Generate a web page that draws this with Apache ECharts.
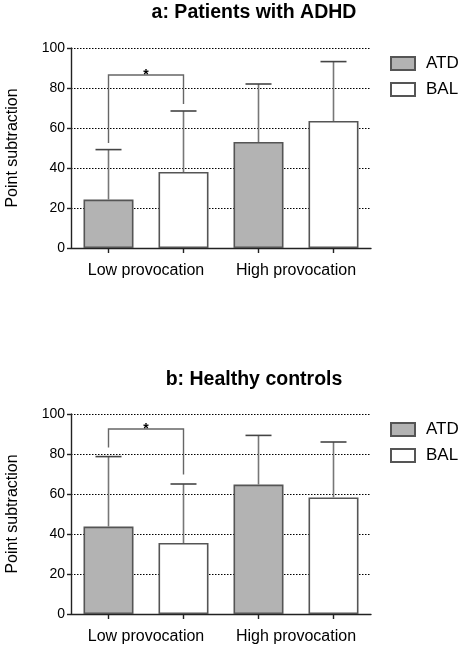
<!DOCTYPE html>
<html>
<head>
<meta charset="utf-8">
<script src="https://cdn.jsdelivr.net/npm/echarts@6/dist/echarts.min.js"></script>
<style>
  html, body { margin: 0; padding: 0; background: #fff; }
  #chart { width: 461px; height: 649px; }
</style>
</head>
<body>
<div id="chart"></div>
<script>
const groups = ['Low provocation', 'High provocation'];
const barSlots = ['', '', '', ''];
const yTicks = [0, 20, 40, 60, 80, 100];

// panel a: patients with ADHD
const adhdAtd = [24.2, 53];
const adhdAtdUpper = [49.2, 82];
const adhdBal = [38, 63.5];
const adhdBalUpper = [68.5, 93.2];
// [left slot, right slot, left end, right end, top]
const adhdBracket = [0, 1, 52.5, 72, 86.5];

// panel b: healthy controls
const ctrlAtd = [43.7, 64.7];
const ctrlAtdUpper = [78.7, 89.3];
const ctrlBal = [35.5, 58.3];
const ctrlBalUpper = [65, 86];
const ctrlBracket = [0, 1, 83.2, 69.8, 92.5];

const FONT = 'Liberation Sans, Arial, sans-serif';
const AXIS_COLOR = '#222';
const GRAY = '#b3b3b3';
const EDGE = '#555';

const chart = echarts.init(document.getElementById('chart'));

// slot order on the tick axis: ATD low, BAL low, ATD high, BAL high
function errorData(atd, atdUp, bal, balUp) {
    return [
        [0, atd[0], atdUp[0]],
        [1, bal[0], balUp[0]],
        [2, atd[1], atdUp[1]],
        [3, bal[1], balUp[1]],
    ];
}

function renderError(params, api) {
    const base = api.coord([api.value(0), api.value(1)]);
    const top = api.coord([api.value(0), api.value(2)]);
    const half = 13;
    return {
        type: 'group',
        children: [
            {
                type: 'line',
                shape: { x1: base[0], y1: base[1], x2: top[0], y2: top[1] },
                style: { stroke: '#777', lineWidth: 1.6 },
            },
            {
                type: 'line',
                shape: { x1: top[0] - half, y1: top[1], x2: top[0] + half, y2: top[1] },
                style: { stroke: '#444', lineWidth: 1.6 },
            },
        ],
    };
}

function renderBracket(params, api) {
    const l0 = api.coord([api.value(0), api.value(2)]);
    const l1 = api.coord([api.value(0), api.value(4)]);
    const r0 = api.coord([api.value(1), api.value(3)]);
    const r1 = api.coord([api.value(1), api.value(4)]);
    return {
        type: 'group',
        children: [
            {
                type: 'polyline',
                shape: { points: [l0, l1, r1, r0] },
                style: { stroke: '#666', lineWidth: 1.4, fill: null },
            },
            {
                type: 'text',
                x: (l1[0] + r1[0]) / 2,
                y: l1[1],
                style: {
                    text: '*', fontFamily: FONT, fontSize: 14, fontWeight: 'bold',
                    fill: '#000', align: 'center', verticalAlign: 'middle',
                },
            },
        ],
    };
}

const grids = [
    { left: 71, top: 48, width: 300, height: 200, outerBoundsMode: 'none' },
    { left: 71, top: 414, width: 300, height: 200, outerBoundsMode: 'none' },
];

const xAxes = [];
const yAxes = [];
grids.forEach((g, i) => {
    xAxes.push({
        type: 'category', gridIndex: i, position: 'bottom', data: groups,
        axisLine: { lineStyle: { color: AXIS_COLOR, width: 1.4 } },
        axisTick: { show: false },
        axisLabel: { color: '#000', fontFamily: FONT, fontSize: 16, margin: 15, interval: 0 },
    });
    xAxes.push({
        type: 'category', gridIndex: i, position: 'bottom', data: barSlots,
        axisLine: { show: false },
        axisTick: { show: true, alignWithLabel: true, length: 5, lineStyle: { color: AXIS_COLOR, width: 1.4 } },
        axisLabel: { show: false },
        splitLine: { show: false },
    });
    yAxes.push({
        type: 'value', gridIndex: i, min: yTicks[0], max: yTicks[yTicks.length - 1], interval: 20,
        name: 'Point subtraction', nameLocation: 'middle', nameGap: 50, nameRotate: 90,
        nameTextStyle: { color: '#000', fontFamily: FONT, fontSize: 16 },
        axisLine: { show: true, lineStyle: { color: AXIS_COLOR, width: 1.4 } },
        axisTick: { show: true, length: 4, lineStyle: { color: AXIS_COLOR, width: 1.4 } },
        axisLabel: { color: '#000', fontFamily: FONT, fontSize: 14, margin: 6 },
        splitLine: { show: true, lineStyle: { color: '#000', width: 1, type: [1.5, 1.5] } },
    });
});

function barSeries(name, values, grid, fill) {
    return {
        name: name, type: 'bar', data: values,
        xAxisIndex: grid * 2, yAxisIndex: grid,
        barWidth: 50, barGap: '50%',
        itemStyle: { color: fill, borderColor: EDGE, borderWidth: 1.6 },
        z: 2,
    };
}

const titleStyle = { fontFamily: FONT, fontSize: 19.5, fontWeight: 'bold', color: '#000' };

const option = {
    animation: false,
    backgroundColor: '#fff',
    title: [
        { text: 'a: Patients with ADHD', left: 249, top: -2, textAlign: 'center', textStyle: titleStyle },
        { text: 'b: Healthy controls', left: 249, top: 365, textAlign: 'center', textStyle: titleStyle },
    ],
    legend: [55, 421].map(top => ({
        data: ['ATD', 'BAL'], orient: 'vertical', left: 390, top: top,
        itemWidth: 24, itemHeight: 13, itemGap: 9, icon: 'rect',
        selectedMode: false, padding: 0,
        textStyle: { fontFamily: FONT, fontSize: 17, color: '#000', padding: [0, 0, 0, 6] },
    })),
    grid: grids,
    xAxis: xAxes,
    yAxis: yAxes,
    series: [
        barSeries('ATD', adhdAtd, 0, GRAY),
        barSeries('BAL', adhdBal, 0, '#fff'),
        barSeries('ATD', ctrlAtd, 1, GRAY),
        barSeries('BAL', ctrlBal, 1, '#fff'),
        { type: 'custom', xAxisIndex: 1, yAxisIndex: 0, z: 3, renderItem: renderError,
          data: errorData(adhdAtd, adhdAtdUpper, adhdBal, adhdBalUpper) },
        { type: 'custom', xAxisIndex: 3, yAxisIndex: 1, z: 3, renderItem: renderError,
          data: errorData(ctrlAtd, ctrlAtdUpper, ctrlBal, ctrlBalUpper) },
        { type: 'custom', xAxisIndex: 1, yAxisIndex: 0, z: 3, renderItem: renderBracket,
          data: [adhdBracket] },
        { type: 'custom', xAxisIndex: 3, yAxisIndex: 1, z: 3, renderItem: renderBracket,
          data: [ctrlBracket] },
    ],
};

chart.setOption(option);
</script>
</body>
</html>
